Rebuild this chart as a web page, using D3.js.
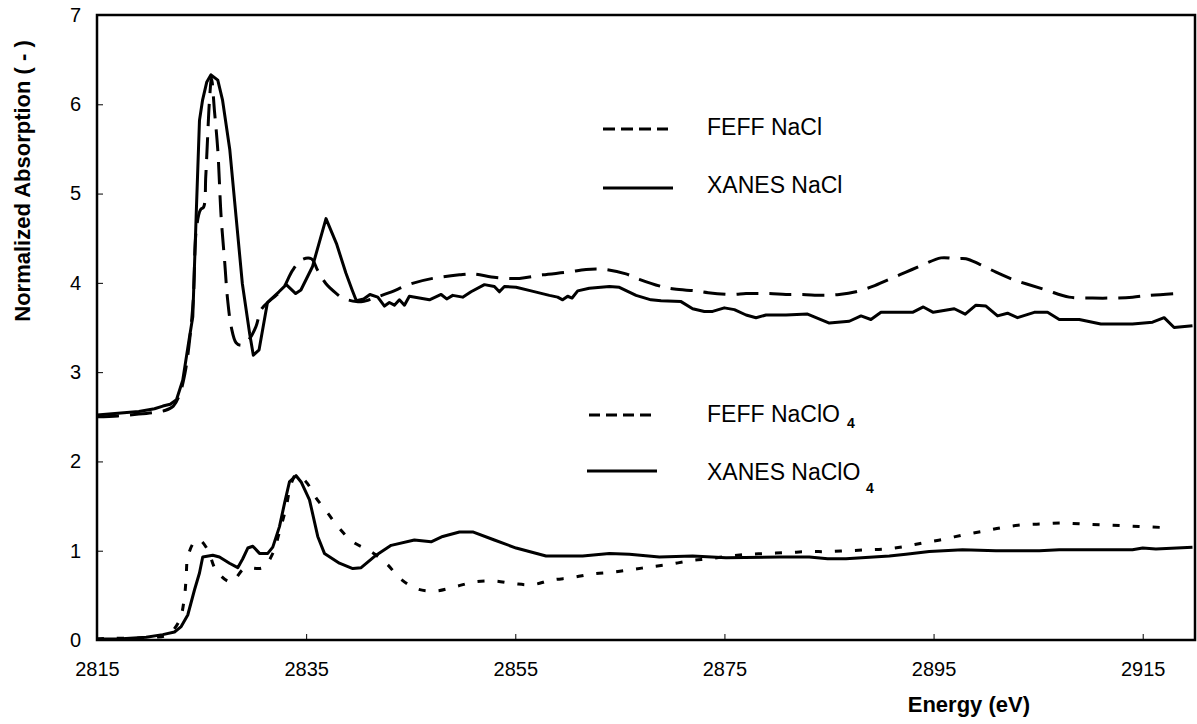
<!DOCTYPE html>
<html>
<head>
<meta charset="utf-8">
<script src="https://cdn.jsdelivr.net/npm/d3@7"></script>
<style>
  html, body { margin: 0; padding: 0; background: #fff; }
  svg { display: block; font-family: "Liberation Sans", Arial, sans-serif; }
</style>
</head>
<body>
<svg id="chart" width="1197" height="724"></svg>
<script>
// ---- Data ----
const xanesNaClE = [2815.0,2817.0,2819.0,2820.5,2821.3,2822.0,2822.6,2823.2,2823.8,2824.16,2824.32,2824.48,2824.8,2825.1,2825.5,2825.9,2826.55,2827.0,2827.7,2828.3,2828.9,2829.6,2829.95,2830.5,2831.3,2832.4,2833.1,2834.0,2834.5,2835.6,2836.9,2837.9,2838.8,2839.4,2839.8,2840.5,2841.1,2841.85,2842.49,2842.96,2843.44,2843.92,2844.4,2844.87,2846.79,2847.91,2848.44,2849.02,2849.97,2850.77,2852.05,2853.0,2853.48,2853.96,2855.08,2856.51,2858.26,2859.05,2859.53,2860.01,2860.43,2860.97,2862.08,2864.0,2864.95,2866.55,2867.98,2868.94,2870.85,2871.96,2873.08,2873.87,2874.99,2875.95,2877.07,2878.02,2878.98,2880.89,2882.95,2885.03,2886.94,2888.06,2889.01,2889.97,2892.99,2894.02,2894.97,2896.98,2898.03,2899.05,2900.01,2901.12,2902.07,2903.03,2904.63,2905.9,2907.02,2908.93,2911.0,2914.02,2915.94,2917.05,2918.0,2919.76];
const xanesNaClV = [2.52,2.54,2.56,2.59,2.62,2.64,2.69,2.91,3.36,3.62,4.18,4.74,5.82,6.05,6.25,6.33,6.27,6.05,5.49,4.74,3.99,3.43,3.19,3.25,3.78,3.90,3.98,3.88,3.92,4.18,4.72,4.44,4.11,3.92,3.80,3.82,3.87,3.84,3.74,3.78,3.75,3.81,3.75,3.85,3.81,3.87,3.82,3.86,3.84,3.90,3.98,3.96,3.90,3.96,3.95,3.91,3.86,3.84,3.81,3.85,3.83,3.91,3.94,3.96,3.95,3.86,3.81,3.80,3.79,3.71,3.68,3.68,3.72,3.70,3.64,3.61,3.64,3.64,3.65,3.55,3.57,3.63,3.59,3.67,3.67,3.73,3.67,3.71,3.65,3.75,3.74,3.63,3.66,3.61,3.67,3.67,3.59,3.59,3.54,3.54,3.56,3.61,3.50,3.52];

const feffNaClE = [2815.0,2817.0,2819.0,2820.5,2821.5,2822.3,2822.9,2823.4,2823.8,2824.2,2824.5,2824.9,2825.2,2825.4,2825.55,2825.76,2825.95,2826.23,2826.55,2826.87,2827.2,2827.5,2827.85,2828.3,2828.8,2829.5,2830.2,2830.7,2831.6,2832.7,2833.7,2834.6,2835.5,2836.1,2836.9,2837.9,2838.5,2839.8,2840.4,2841.5,2842.96,2845.04,2847.1,2849.66,2850.93,2853.16,2855.39,2857.62,2860.01,2861.77,2863.52,2865.59,2866.86,2868.94,2870.21,2872.28,2873.44,2875.78,2877.07,2879.29,2880.89,2882.48,2884.39,2885.98,2887.58,2889.17,2890.77,2892.36,2893.95,2895.71,2897.14,2898.1,2899.37,2900.97,2902.55,2903.83,2905.75,2907.97,2910.2,2912.11,2914.02,2915.62,2918.01];
const feffNaClV = [2.50,2.51,2.53,2.55,2.57,2.62,2.75,2.98,3.30,3.80,4.60,4.82,4.85,5.19,5.56,6.05,6.29,5.93,5.49,4.74,4.25,3.80,3.50,3.33,3.30,3.36,3.51,3.70,3.81,3.92,4.14,4.26,4.27,4.14,3.99,3.88,3.83,3.79,3.79,3.83,3.89,3.99,4.05,4.09,4.10,4.06,4.05,4.09,4.12,4.15,4.15,4.10,4.04,3.96,3.93,3.91,3.89,3.87,3.88,3.88,3.87,3.87,3.86,3.87,3.90,3.96,4.04,4.12,4.20,4.28,4.27,4.27,4.21,4.12,4.04,3.99,3.92,3.84,3.83,3.83,3.84,3.86,3.88];

const xanesNaClO4E = [2815.0,2817.0,2819.7,2821.29,2822.41,2823.05,2823.68,2824.32,2824.8,2825.11,2826.07,2826.71,2827.67,2828.46,2828.94,2829.42,2829.9,2830.54,2831.33,2831.81,2832.45,2832.93,2833.4,2834.04,2834.52,2835.32,2836.11,2836.75,2838.18,2839.46,2840.26,2841.69,2843.13,2845.35,2846.95,2848.06,2849.66,2850.93,2853.0,2855.08,2857.94,2861.44,2864.0,2865.91,2868.78,2871.96,2875.15,2880.25,2883.12,2884.87,2886.62,2890.77,2892.36,2894.59,2897.77,2900.97,2905.11,2907.02,2912.11,2914.02,2915.0,2916.26,2919.76];
const xanesNaClO4V = [0.01,0.01,0.03,0.06,0.09,0.15,0.28,0.56,0.75,0.93,0.95,0.93,0.86,0.81,0.91,1.03,1.05,0.97,0.97,1.04,1.27,1.53,1.77,1.84,1.77,1.57,1.16,0.97,0.86,0.80,0.81,0.95,1.06,1.12,1.10,1.16,1.21,1.21,1.12,1.03,0.94,0.94,0.97,0.96,0.93,0.94,0.92,0.93,0.93,0.91,0.91,0.94,0.96,0.99,1.01,1.00,1.00,1.01,1.01,1.01,1.03,1.02,1.04];

const feffNaClO4E = [2815.0,2816.2,2818.42,2820.5,2821.8,2822.89,2823.37,2823.53,2823.68,2824.32,2824.8,2825.59,2826.4,2827.83,2829.1,2830.85,2831.81,2832.45,2833.09,2833.57,2834.04,2835.0,2835.96,2837.07,2838.18,2839.46,2841.21,2842.65,2844.08,2845.67,2847.43,2849.34,2851.09,2853.0,2854.91,2856.66,2858.42,2860.49,2862.4,2864.31,2866.22,2867.98,2869.9,2871.81,2873.56,2875.47,2877.38,2879.29,2881.2,2883.12,2884.87,2886.78,2888.69,2890.45,2892.36,2894.11,2896.02,2897.94,2899.85,2901.6,2903.51,2905.42,2907.33,2909.09,2911.0,2913.07,2915.0,2916.89];
const feffNaClO4V = [0.01,0.02,0.02,0.03,0.06,0.22,0.49,0.71,0.93,1.10,1.12,1.01,0.78,0.65,0.80,0.81,0.97,1.21,1.49,1.75,1.85,1.77,1.59,1.42,1.25,1.10,0.99,0.86,0.68,0.57,0.55,0.60,0.65,0.66,0.63,0.62,0.67,0.70,0.74,0.76,0.79,0.82,0.85,0.89,0.91,0.94,0.96,0.97,0.98,0.99,0.99,1.00,1.01,1.02,1.05,1.09,1.13,1.18,1.22,1.26,1.29,1.30,1.31,1.30,1.29,1.28,1.27,1.26];

const xTicks = [2815, 2835, 2855, 2875, 2895, 2915];
const yTicks = [0, 1, 2, 3, 4, 5, 6, 7];
const xDomain = [2815, 2920];
const yDomain = [0, 7];
const legendLabels = ["FEFF NaCl", "XANES NaCl", "FEFF NaClO", "XANES NaClO"];
const xTitle = "Energy (eV)";
const yTitle = "Normalized Absorption ( - )";

// ---- Drawing ----
const svg = d3.select("#chart");
const L = 97, R = 1195, T = 15, B = 640;
const x = d3.scaleLinear().domain(xDomain).range([L, R]);
const y = d3.scaleLinear().domain(yDomain).range([B, T]);

svg.append("defs").append("clipPath").attr("id", "clip")
  .append("rect").attr("x", L).attr("y", T).attr("width", R - L).attr("height", B - T);

// axes (ticks inside)
const xAxis = d3.axisBottom(x).tickValues(xTicks).tickSize(-6).tickPadding(22).tickFormat(d3.format("d"));
const gx = svg.append("g").attr("transform", `translate(0,${B})`).call(xAxis);
gx.select(".domain").remove();
gx.selectAll(".tick line").attr("stroke", "#000").attr("stroke-width", 1);
gx.selectAll(".tick text").attr("font-size", 20).attr("fill", "#000")
  .attr("font-family", "Liberation Sans, Arial, sans-serif").attr("dy", "0.71em");

const yAxis = d3.axisLeft(y).tickValues(yTicks).tickSize(-6).tickPadding(16).tickFormat(d3.format("d"));
const gy = svg.append("g").attr("transform", `translate(${L},0)`).call(yAxis);
gy.select(".domain").remove();
gy.selectAll(".tick line").attr("stroke", "#000").attr("stroke-width", 1);
gy.selectAll(".tick text").attr("font-size", 20).attr("fill", "#000")
  .attr("font-family", "Liberation Sans, Arial, sans-serif");

// frame
svg.append("rect").attr("x", L).attr("y", T).attr("width", R - L).attr("height", B - T)
  .attr("fill", "none").attr("stroke", "#000").attr("stroke-width", 2.5);

function series(E, V) { return E.map((e, i) => [e, V[i]]); }
const lineLin = d3.line().x(d => x(d[0])).y(d => y(d[1])).curve(d3.curveLinear);
const lineSmooth = d3.line().x(d => x(d[0])).y(d => y(d[1])).curve(d3.curveCatmullRom.alpha(0.5));

const plot = svg.append("g").attr("clip-path", "url(#clip)");
plot.append("path").attr("d", lineSmooth(series(feffNaClE, feffNaClV)))
  .attr("fill", "none").attr("stroke", "#000").attr("stroke-width", 3).attr("stroke-dasharray", "22,11");
plot.append("path").attr("d", lineLin(series(xanesNaClE, xanesNaClV)))
  .attr("fill", "none").attr("stroke", "#000").attr("stroke-width", 3).attr("stroke-linejoin", "round");
plot.append("path").attr("d", lineSmooth(series(feffNaClO4E, feffNaClO4V)))
  .attr("fill", "none").attr("stroke", "#000").attr("stroke-width", 3).attr("stroke-dasharray", "7,13");
plot.append("path").attr("d", lineLin(series(xanesNaClO4E, xanesNaClO4V)))
  .attr("fill", "none").attr("stroke", "#000").attr("stroke-width", 3).attr("stroke-linejoin", "round");

// legends
const legend = svg.append("g").attr("font-family", "Liberation Sans, Arial, sans-serif");
const legItems = [
  {x1: 603, x2: 668, ly: 129, dash: "12,6", tx: 707, ty: 135, label: legendLabels[0]},
  {x1: 603, x2: 673, ly: 188, dash: null, tx: 707, ty: 193, label: legendLabels[1]},
  {x1: 589, x2: 654, ly: 415, dash: "11,6", tx: 707, ty: 422, label: legendLabels[2], sub: "4", sx: 847, sy: 428},
  {x1: 587, x2: 657, ly: 471, dash: null, tx: 707, ty: 480, label: legendLabels[3], sub: "4", sx: 866, sy: 493}
];
legItems.forEach(it => {
  const ln = legend.append("line").attr("x1", it.x1).attr("x2", it.x2).attr("y1", it.ly).attr("y2", it.ly)
    .attr("stroke", "#000").attr("stroke-width", 3);
  if (it.dash) ln.attr("stroke-dasharray", it.dash);
  legend.append("text").attr("x", it.tx).attr("y", it.ty).attr("font-size", 23).attr("fill", "#000").text(it.label);
  if (it.sub) legend.append("text").attr("x", it.sx).attr("y", it.sy).attr("font-size", 14)
    .attr("font-weight", "bold").attr("fill", "#000").text(it.sub);
});

// axis titles
svg.append("text").attr("x", 1030).attr("y", 712).attr("text-anchor", "end")
  .attr("font-size", 22).attr("font-weight", "bold").attr("fill", "#000").text(xTitle);
svg.append("text").attr("transform", "translate(30,181) rotate(-90)").attr("text-anchor", "middle")
  .attr("font-size", 22).attr("font-weight", "bold").attr("fill", "#000").text(yTitle);
</script>
</body>
</html>
